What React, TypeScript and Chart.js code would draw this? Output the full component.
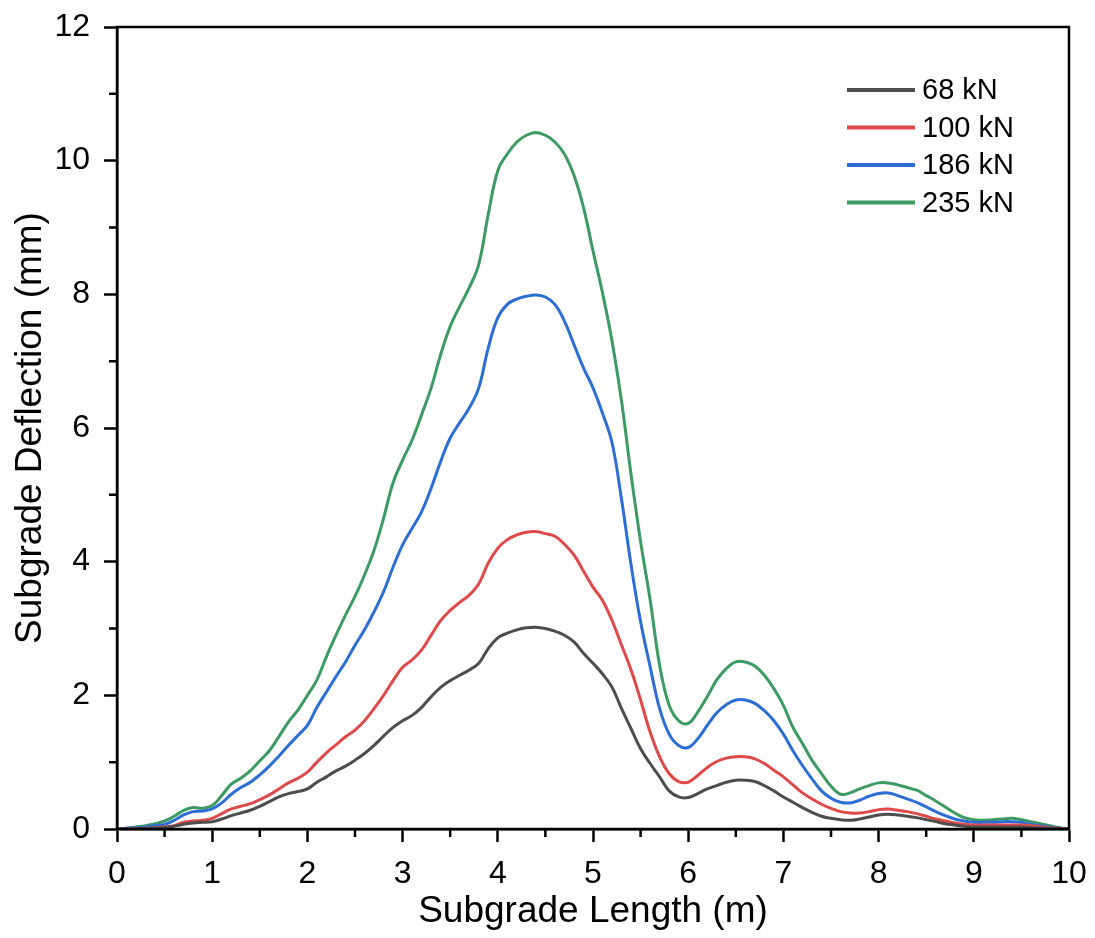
import React, { useEffect, useRef } from "react";
import { Chart, registerables } from "chart.js";

Chart.register(...registerables);

const xValues = [
  0, 0.1, 0.2, 0.3, 0.4, 0.5, 0.6, 0.7, 0.8, 0.9,
  1, 1.1, 1.2, 1.3, 1.4, 1.5, 1.6, 1.7, 1.8, 1.9,
  2, 2.1, 2.2, 2.3, 2.4, 2.5, 2.6, 2.7, 2.8, 2.9,
  3, 3.1, 3.2, 3.3, 3.4, 3.5, 3.6, 3.7, 3.8, 3.9,
  4, 4.1, 4.2, 4.3, 4.4, 4.5, 4.6, 4.7, 4.8, 4.9,
  5, 5.1, 5.2, 5.3, 5.4, 5.5, 5.6, 5.7, 5.8, 5.9,
  6, 6.1, 6.2, 6.3, 6.4, 6.5, 6.6, 6.7, 6.8, 6.9,
  7, 7.1, 7.2, 7.3, 7.4, 7.5, 7.6, 7.7, 7.8, 7.9,
  8, 8.1, 8.2, 8.3, 8.4, 8.5, 8.6, 8.7, 8.8, 8.9,
  9, 9.1, 9.2, 9.3, 9.4, 9.5, 9.6, 9.7, 9.8, 9.9, 10,
];

const load68 = [
  0, 0, 0.003, 0.006, 0.01, 0.02, 0.04, 0.07, 0.09, 0.1,
  0.11, 0.15, 0.2, 0.24, 0.28, 0.34, 0.41, 0.48, 0.53, 0.56,
  0.6, 0.7, 0.78, 0.87, 0.94, 1.03, 1.13, 1.25, 1.39, 1.52,
  1.62, 1.7, 1.82, 1.98, 2.12, 2.22, 2.3, 2.38, 2.48, 2.7,
  2.86, 2.93, 2.98, 3.01, 3.02, 3.0, 2.96, 2.9, 2.8, 2.63,
  2.48, 2.32, 2.12, 1.8, 1.5, 1.2, 0.98, 0.78, 0.57, 0.48,
  0.47, 0.53, 0.6, 0.65, 0.7, 0.73, 0.73, 0.71, 0.65, 0.57,
  0.48, 0.4, 0.32, 0.25, 0.19, 0.16, 0.14, 0.13, 0.15, 0.18,
  0.21, 0.22, 0.21, 0.19, 0.17, 0.14, 0.11, 0.08, 0.06, 0.04,
  0.03, 0.03, 0.03, 0.03, 0.03, 0.03, 0.02, 0.015, 0.01, 0.005, 0,
];

const load100 = [
  0, 0, 0.005, 0.01, 0.02, 0.03, 0.05, 0.1, 0.12, 0.13,
  0.16, 0.23, 0.3, 0.34, 0.38, 0.44, 0.51, 0.6, 0.69, 0.76,
  0.85, 1.0, 1.14, 1.26, 1.38, 1.48, 1.62, 1.8, 2.0, 2.22,
  2.42, 2.53, 2.68, 2.9, 3.12, 3.27, 3.39, 3.5, 3.67, 3.98,
  4.2, 4.33, 4.4, 4.44, 4.45, 4.42, 4.38, 4.26, 4.1, 3.86,
  3.62, 3.42, 3.12, 2.75, 2.38, 1.93, 1.45, 1.08, 0.83, 0.71,
  0.7, 0.8, 0.92, 1.01, 1.06, 1.08, 1.08, 1.05, 0.98, 0.88,
  0.78, 0.66, 0.54, 0.45, 0.37, 0.31, 0.26, 0.24, 0.24, 0.26,
  0.29, 0.3, 0.28, 0.26, 0.23, 0.19, 0.15, 0.12, 0.09, 0.07,
  0.06, 0.06, 0.06, 0.06, 0.06, 0.06, 0.05, 0.035, 0.02, 0.01, 0,
];

const load186 = [
  0, 0.01, 0.02, 0.03, 0.05, 0.07, 0.13, 0.21, 0.26, 0.27,
  0.3, 0.39, 0.52, 0.62, 0.7, 0.81, 0.94, 1.09, 1.25, 1.4,
  1.55, 1.82, 2.05, 2.28, 2.5, 2.75, 2.98, 3.25, 3.55, 3.92,
  4.25, 4.5, 4.75, 5.1, 5.5, 5.85, 6.08, 6.3, 6.6, 7.2,
  7.65, 7.85, 7.93, 7.97, 7.99, 7.96, 7.85, 7.6, 7.25, 6.9,
  6.6, 6.22, 5.78, 4.93, 3.95, 3.1, 2.43, 1.8, 1.42, 1.25,
  1.22, 1.35, 1.55, 1.74, 1.86, 1.93, 1.93, 1.88, 1.77, 1.62,
  1.42, 1.17, 0.95, 0.75, 0.57, 0.46, 0.4, 0.39, 0.43, 0.49,
  0.53, 0.54, 0.5, 0.45, 0.4, 0.33, 0.26, 0.2, 0.15, 0.12,
  0.1, 0.1, 0.1, 0.11, 0.11, 0.1, 0.07, 0.05, 0.03, 0.01, 0,
];

const load235 = [
  0, 0.01, 0.03, 0.05, 0.08, 0.12, 0.19, 0.28, 0.32, 0.31,
  0.35, 0.5, 0.67, 0.76, 0.87, 1.02, 1.17, 1.38, 1.6, 1.78,
  2.0, 2.23, 2.58, 2.9, 3.2, 3.48, 3.8, 4.17, 4.65, 5.18,
  5.52, 5.82, 6.2, 6.6, 7.1, 7.52, 7.82, 8.1, 8.45, 9.2,
  9.85, 10.1, 10.28, 10.38, 10.42, 10.38, 10.28, 10.1, 9.78, 9.3,
  8.65, 8.02, 7.3, 6.4, 5.3, 4.3, 3.43, 2.45, 1.85, 1.62,
  1.58, 1.75, 1.98, 2.23, 2.4, 2.5, 2.5, 2.44, 2.3, 2.1,
  1.85, 1.52, 1.28, 1.03, 0.83, 0.64, 0.52, 0.54, 0.6, 0.65,
  0.69, 0.69, 0.66, 0.62, 0.58, 0.5, 0.42, 0.33, 0.24, 0.17,
  0.14, 0.13, 0.14, 0.15, 0.16, 0.14, 0.11, 0.08, 0.05, 0.02, 0,
];

const seriesLabels = ["68 kN", "100 kN", "186 kN", "235 kN"];
const seriesColors = ["#4d4d4d", "#de4a4a", "#2c6ed4", "#3d9a62"];
const seriesValues = [load68, load100, load186, load235];

const xMinorTicks = [0.5, 1.5, 2.5, 3.5, 4.5, 5.5, 6.5, 7.5, 8.5, 9.5];
const yMinorTicks = [1, 3, 5, 7, 9, 11];

const FONT = "'Liberation Sans', Arial, Helvetica, sans-serif";

const framePlugin = {
  id: "frameMinorLegend",
  afterDraw(chart: any) {
    const { ctx, chartArea: ca, scales } = chart;
    ctx.save();
    ctx.strokeStyle = "#000";
    ctx.lineWidth = 2.5;
    ctx.strokeRect(ca.left, ca.top, ca.right - ca.left, ca.bottom - ca.top);
    ctx.beginPath();
    for (const v of xMinorTicks) {
      const px = scales.x.getPixelForValue(v);
      ctx.moveTo(px, ca.bottom);
      ctx.lineTo(px, ca.bottom + 8);
    }
    for (const v of yMinorTicks) {
      const py = scales.y.getPixelForValue(v);
      ctx.moveTo(ca.left, py);
      ctx.lineTo(ca.left - 8, py);
    }
    ctx.stroke();

    // legend
    const lx = ca.right - 222;
    const ly = ca.top + 63;
    ctx.font = `29px ${FONT}`;
    ctx.textBaseline = "middle";
    ctx.textAlign = "left";
    chart.data.datasets.forEach((ds: any, i: number) => {
      const y = ly + i * 37.5;
      ctx.strokeStyle = ds.borderColor;
      ctx.lineWidth = 4;
      ctx.beginPath();
      ctx.moveTo(lx, y);
      ctx.lineTo(lx + 68, y);
      ctx.stroke();
      ctx.fillStyle = "#000";
      ctx.fillText(ds.label, lx + 75, y + 1);
    });
    ctx.restore();
  },
};

export default function App() {
  const canvasRef = useRef<HTMLCanvasElement | null>(null);

  useEffect(() => {
    document.body.style.margin = "0";
    const canvas = canvasRef.current;
    if (!canvas) return;
    const chart = new Chart(canvas, {
      type: "line",
      data: {
        datasets: seriesValues.map((vals, i) => ({
          label: seriesLabels[i],
          data: xValues.map((x, j) => ({ x, y: vals[j] })),
          borderColor: seriesColors[i],
          backgroundColor: seriesColors[i],
          borderWidth: 3,
          pointRadius: 0,
          tension: 0.4,
          fill: false,
        })),
      },
      options: {
        animation: false,
        responsive: false,
        devicePixelRatio: 1,
        layout: { padding: { top: 27, right: 26, left: 0, bottom: 0 } },
        plugins: {
          legend: { display: false },
          tooltip: { enabled: false },
        },
        scales: {
          x: {
            type: "linear",
            min: 0,
            max: 10,
            ticks: {
              stepSize: 1,
              color: "#000",
              font: { family: FONT, size: 32 },
              padding: 13,
              maxRotation: 0,
            },
            grid: {
              drawOnChartArea: false,
              drawTicks: true,
              tickLength: 13,
              tickWidth: 2.5,
              tickColor: "#000",
            },
            border: { display: true, color: "#000", width: 2.5 },
            title: {
              display: true,
              text: "Subgrade Length (m)",
              color: "#000",
              font: { family: FONT, size: 37 },
              padding: { top: 0, bottom: 4 },
            },
            afterFit: (s: any) => {
              s.height = 109;
              s.paddingLeft = 0;
              s.paddingRight = 0;
            },
          },
          y: {
            type: "linear",
            min: 0,
            max: 12,
            ticks: {
              stepSize: 2,
              color: "#000",
              font: { family: FONT, size: 32 },
              padding: 14,
            },
            grid: {
              drawOnChartArea: false,
              drawTicks: true,
              tickLength: 13,
              tickWidth: 2.5,
              tickColor: "#000",
            },
            border: { display: true, color: "#000", width: 2.5 },
            title: {
              display: true,
              text: "Subgrade Deflection (mm)",
              color: "#000",
              font: { family: FONT, size: 37 },
              padding: { top: 9, bottom: 0 },
            },
            afterFit: (s: any) => {
              s.width = 117;
              s.paddingTop = 0;
              s.paddingBottom = 0;
            },
          },
        },
      },
      plugins: [framePlugin],
    });
    return () => chart.destroy();
  }, []);

  return (
    <div style={{ position: "absolute", left: 0, top: 0, width: 1095, height: 938 }}>
      <canvas ref={canvasRef} width={1095} height={938} />
    </div>
  );
}
